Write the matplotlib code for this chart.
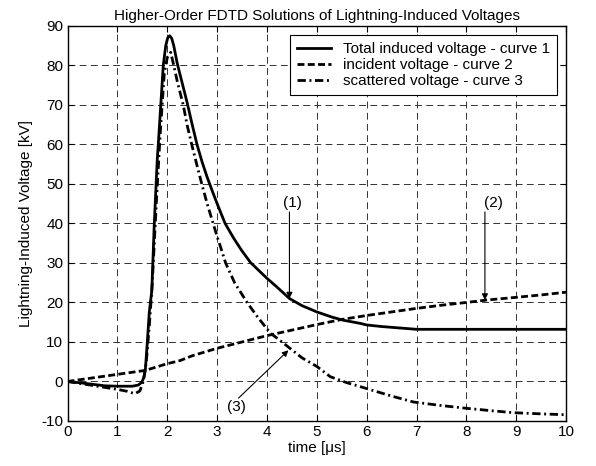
import matplotlib
matplotlib.use('Agg')
import matplotlib.pyplot as plt

plt.rcParams['font.family'] = ['Liberation Sans', 'DejaVu Sans']
plt.rcParams['axes.unicode_minus'] = False

# curve 1 - total induced voltage
t_total = [0, 0.3, 0.75, 1.0, 1.3, 1.42, 1.49, 1.53, 1.56, 1.6, 1.64, 1.69, 1.74,
           1.8, 1.82, 1.87, 1.92, 1.97, 2.01, 2.05, 2.09, 2.13, 2.2, 2.3, 2.4,
           2.5, 2.6, 2.7, 2.8, 2.9, 3.0, 3.16, 3.33, 3.49, 3.67, 4.0, 4.2, 4.45,
           4.7, 5.0, 5.3, 5.53, 5.87, 6.0, 6.3, 6.6, 7.0, 8.0, 9.0, 10.0]
v_total = [0, -0.4, -1.1, -1.2, -1.2, -0.9, -0.2, 1.0, 2.8, 10, 17.6, 23, 40,
           56.3, 60, 70, 80, 85, 87, 87.5, 86.8, 85, 80.5, 75.5, 70.5,
           65, 59.8, 55.5, 51.7, 48.3, 45, 40, 36.3, 33.2, 30.1, 26.1, 23.9, 21.0,
           19.2, 17.6, 16.3, 15.5, 14.7, 14.3, 13.9, 13.6, 13.2, 13.2, 13.2, 13.2]

# curve 2 - incident voltage
t_inc = [0, 0.5, 1.0, 1.56, 2.0, 2.26, 2.5, 3.0, 3.5, 4.0, 4.5, 5.0, 5.5, 6.0,
         6.5, 7.0, 7.5, 8.0, 8.4, 9.0, 9.5, 10.0]
v_inc = [0, 0.9, 1.8, 2.8, 4.5, 5.3, 6.5, 8.4, 10.0, 11.6, 13.0, 14.4, 15.7, 16.7,
         17.6, 18.5, 19.3, 20.0, 20.6, 21.3, 21.9, 22.6]

# curve 3 - scattered voltage
t_sca = [0, 0.3, 0.75, 1.0, 1.2, 1.35, 1.45, 1.52, 1.58, 1.64, 1.7, 1.78, 1.86,
         1.94, 2.0, 2.07, 2.13, 2.2, 2.32, 2.4, 2.5, 2.6, 2.7, 2.8, 2.92, 3.0,
         3.09, 3.17, 3.35, 3.6, 3.8, 4.07, 4.25, 4.46, 4.7, 5.0, 5.27, 5.6, 6.0,
         6.5, 6.94, 7.5, 8.01, 8.5, 8.94, 9.5, 9.95]
v_sca = [0, -0.6, -1.5, -2.0, -2.5, -3.1, -2.4, 0, 5, 14, 25, 45, 63,
         78, 82, 83.3, 80, 76, 70, 64.8, 59.5, 54.5, 49.6, 45, 40, 36.7,
         33.2, 30, 25, 20, 16.5, 12.2, 10.5, 8.4, 6, 3.8, 1.2, -0.3, -1.8,
         -3.7, -5.2, -6.1, -6.8, -7.4, -7.9, -8.2, -8.4]

labels = ['Total induced voltage - curve 1', 'incident voltage - curve 2',
          'scattered voltage - curve 3']

fig = plt.figure(figsize=(5.96, 4.66), dpi=100)
ax = fig.add_axes([0.1133, 0.0966, 0.8367, 0.8479])

ax.plot(t_total, v_total, color='black', lw=2, label=labels[0])
ax.plot(t_inc, v_inc, color='black', lw=2, dashes=(2.5, 1.2), label=labels[1])
ax.plot(t_sca, v_sca, color='black', lw=2, dashes=(3, 1.3, 0.7, 1.3), label=labels[2])

ax.set_xlim(0, 10)
ax.set_ylim(-10, 90)
ax.set_xticks(range(0, 11))
ax.set_yticks(range(-10, 91, 10))
ax.grid(True, color='#333333', lw=0.7, dashes=(7, 4.5))
ax.tick_params(direction='in', top=True, right=True, length=4, labelsize=11, pad=3)
for s in ax.spines.values():
    s.set_linewidth(1)

ax.set_title('Higher-Order FDTD Solutions of Lightning-Induced Voltages', fontsize=11, pad=4)
ax.set_xlabel('time [μs]', fontsize=11, labelpad=1)
ax.set_ylabel('Lightning-Induced Voltage [kV]', fontsize=11, labelpad=6)

leg = ax.legend(loc='upper right', fontsize=11, handlelength=2.2, handletextpad=0.8,
                fancybox=False, framealpha=1, edgecolor='black', borderpad=0.45,
                labelspacing=0.15, borderaxespad=0.6)
leg.get_frame().set_linewidth(0.8)

arw = dict(arrowstyle='-|>', color='black', lw=0.8, mutation_scale=9,
           shrinkA=0, shrinkB=0)
ax.text(4.52, 45.1, '(1)', ha='center', va='center', fontsize=11)
ax.annotate('', xy=(4.45, 21.0), xytext=(4.45, 42.9), arrowprops=arw)
ax.text(8.54, 45.1, '(2)', ha='center', va='center', fontsize=11)
ax.annotate('', xy=(8.37, 20.6), xytext=(8.37, 42.9), arrowprops=arw)
ax.text(3.38, -6.4, '(3)', ha='center', va='center', fontsize=11)
ax.annotate('', xy=(4.43, 7.9), xytext=(3.43, -4.2), arrowprops=arw)

fig.savefig('out.png', dpi=100)
